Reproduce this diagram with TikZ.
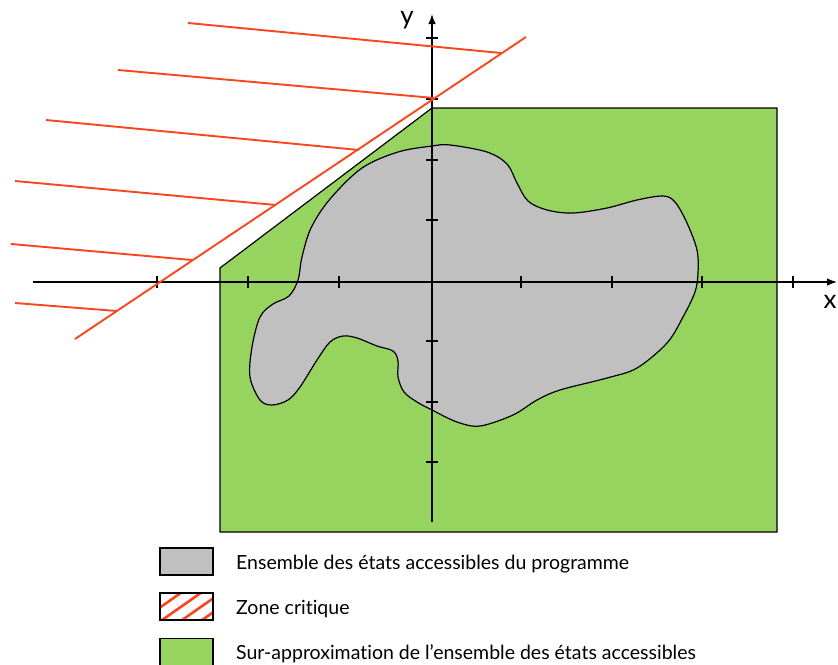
\documentclass[tikz,border=0pt]{standalone}
\usepackage{fontspec}
\setmainfont{Lato}[Ligatures=NoCommon]
\usetikzlibrary{arrows.meta}
\definecolor{approxgreen}{RGB}{150,212,95}
\definecolor{stategray}{RGB}{192,192,192}
\definecolor{critred}{RGB}{250,70,30}
\tikzset{
  axisline/.style={line width=1.4pt,-{Latex[length=10pt,width=7.5pt]}},
  tickmark/.style={line width=1.4pt},
  outline/.style={line width=1.2pt,draw=black},
  redline/.style={line width=1.9pt,draw=critred},
  legbox/.style={outline,minimum width=53pt,minimum height=27pt,inner sep=0pt},
  legtext/.style={anchor=base west,font=\fontsize{19.5}{22}\selectfont,inner sep=0pt},
  axlabel/.style={font=\fontsize{26}{30}\selectfont,inner sep=0pt}
}
\begin{document}
\begin{tikzpicture}[x=1pt,y=-1pt]
\useasboundingbox (0,0) rectangle (838,664);
% over-approximation polygon
\filldraw[fill=approxgreen,outline] (220,268) -- (432,108) -- (777,108) -- (777,532) -- (220,532) -- cycle;
% reachable states blob
\filldraw[fill=stategray,outline] plot[smooth cycle,tension=0.55] coordinates {
 (450,145) (487,152) (507,164) (517,183) (528,201) (547,210) (573,213) (607,208) (637,200) (663,196) (675,202)
 (687,223) (697,250) (698,273) (695,292) (683,317) (667,343) (637,368) (607,378) (560,390)
 (537,400) (513,415) (480,426) (457,422) (432,410) (417,402) (404,392) (398,377) (398,361) (393,351)
 (377,346) (357,338) (343,336) (330,342) (317,360) (300,387) (288,400) (272,405) (260,400)
 (250,377) (252,347) (260,317) (273,304) (289,296) (298,280) (302,257) (311,228) (330,199)
 (362,168) (398,152) (432,146)};
% axes
\coordinate (xs) at (33,282);
\coordinate (xe) at (837,282);
\coordinate (ys) at (432,522);
\coordinate (ye) at (432,14);
\draw[axisline] (xs) -- (xe);
\draw[axisline] (ys) -- (ye);
\foreach \tx in {157,248,339,521,612,702,793}
  \draw[tickmark] (\tx,276) -- (\tx,288);
\foreach \ty in {38,99,160,220,341,402,462}
  \draw[tickmark] (426,\ty) -- (438,\ty);
\node[axlabel] (ylab) at (407,20) {y};
\node[axlabel] (xlab) at (830,302) {x};
% critical zone
\coordinate (d0) at (75,339);
\coordinate (d1) at (526,37);
\draw[redline] (d0) -- (d1);
\foreach \sx/\sy/\ex/\ey in {188/23/501/53, 118/70/434/98, 46/120/359/150, 15/181/276/205, 11/244/192/260, 15/303/117/311}
  \draw[redline] (\sx,\sy) -- (\ex,\ey);
% legend
\node[legbox,fill=stategray] (lg1) at (186.5,561.5) {};
\node[legtext] (lt1) at (236,569) {Ensemble des états accessibles du programme};
\node[legbox,fill=white] (lg2) at (186.5,606.5) {};
\begin{scope}
\clip (160,593) rectangle (213,620);
\foreach \o in {-20,0,20,40}
  \draw[redline,line width=2.6pt] (155+\o,625) -- (205+\o,590);
\end{scope}
\draw[outline] (160,593) rectangle (213,620);
\node[legtext] (lt2) at (236,614) {Zone critique};
\node[legbox,fill=approxgreen] (lg3) at (186.5,652) {};
\node[legtext] (lt3) at (236,659) {Sur-approximation de l’ensemble des états accessibles};
\end{tikzpicture}
\end{document}
